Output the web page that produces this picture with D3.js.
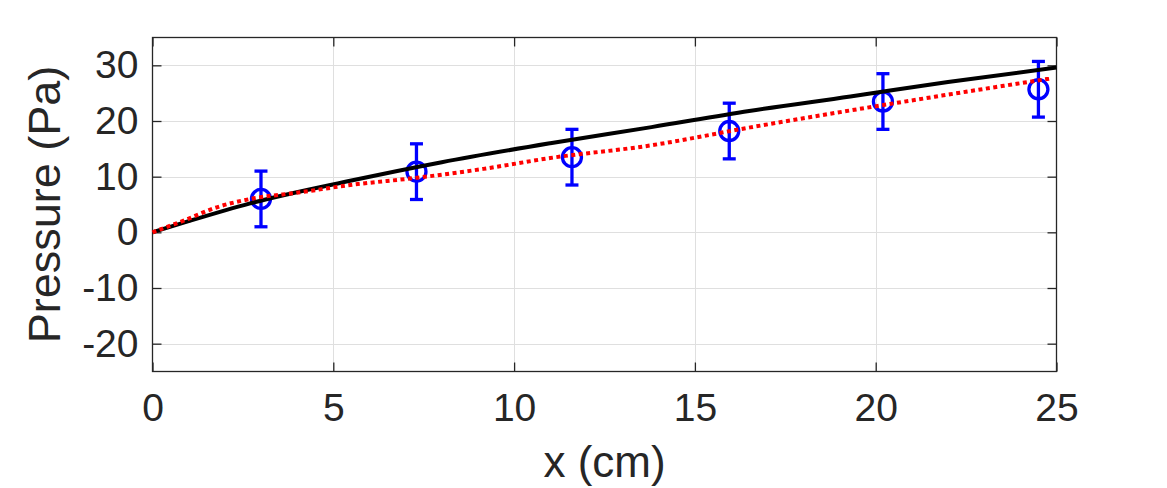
<!DOCTYPE html>
<html>
<head>
<meta charset="utf-8">
<script src="https://cdn.jsdelivr.net/npm/d3@7"></script>
<style>
    html, body { margin: 0; padding: 0; background: #fff; }
    svg { display: block; font-family: "Liberation Sans", Arial, Helvetica, sans-serif; }
</style>
</head>
<body>
<svg id="chart" width="1167" height="488"></svg>
<script>
// measured points with +/- error
const measX = [3.0, 7.3, 11.6, 15.95, 20.2, 24.5];
const measY = [6.0, 10.9, 13.5, 18.2, 23.5, 25.7];
const measErr = [5, 5, 5, 5, 5, 5];

// model curve (solid black)
const modelX = [0, 1, 2.7, 5.5, 8, 11, 13.8, 16.5, 19.3, 22, 25];
const modelY = [0, 2.0, 5.2, 9.3, 12.6, 16.0, 18.9, 21.8, 24.4, 27.0, 29.6];

// fitted curve (red dotted)
const fitX = [0, 0.86, 1.78, 2.71, 4.1, 5.47, 7.31, 9.15, 11.0, 13.76, 16.53, 19.3, 22.06, 24.8];
const fitY = [0, 2.1, 4.5, 6.0, 7.2, 8.5, 9.8, 11.4, 13.35, 15.6, 18.85, 21.9, 24.8, 27.6];

const xTicks = [0, 5, 10, 15, 20, 25];
const yTicks = [-20, -10, 0, 10, 20, 30];

const MARGIN = { left: 152.5, right: 1056.5, top: 37.5, bottom: 371.5 };
const TICK_LEN = 9;
const TEXT_COLOR = "#262626";

const svg = d3.select("#chart");

const x = d3.scaleLinear().domain([0, 25]).range([MARGIN.left, MARGIN.right]);
const y = d3.scaleLinear().domain([-25, 35]).range([MARGIN.bottom, MARGIN.top]);

// grid
const grid = svg.append("g").attr("class", "grid")
    .attr("stroke", "#dfdfdf")
    .attr("stroke-width", 1);
grid.selectAll(".gx").data(xTicks.slice(1, -1)).join("line")
    .attr("class", "gx")
    .attr("x1", (d) => Math.round(x(d)) + 0.5).attr("x2", (d) => Math.round(x(d)) + 0.5)
    .attr("y1", MARGIN.top).attr("y2", MARGIN.bottom);
grid.selectAll(".gy").data(yTicks).join("line")
    .attr("class", "gy")
    .attr("y1", (d) => Math.round(y(d)) + 0.5).attr("y2", (d) => Math.round(y(d)) + 0.5)
    .attr("x1", MARGIN.left).attr("x2", MARGIN.right);

// axes, ticks pointing inward on all four sides
const axisBottom = d3.axisBottom(x).tickValues(xTicks).tickSize(-TICK_LEN).tickPadding(22).tickFormat(d3.format("d"));
const axisLeft = d3.axisLeft(y).tickValues(yTicks).tickSize(-TICK_LEN).tickPadding(14).tickFormat((d) => d < 0 ? "-" + Math.abs(d) : d);
const axisTop = d3.axisTop(x).tickValues(xTicks).tickSize(-TICK_LEN).tickFormat("");
const axisRight = d3.axisRight(y).tickValues(yTicks).tickSize(-TICK_LEN).tickFormat("");

function styleAxis(g) {
    g.select(".domain").remove();
    g.selectAll(".tick line").attr("stroke", TEXT_COLOR).attr("stroke-width", 1.3);
    g.selectAll(".tick text")
        .attr("fill", TEXT_COLOR)
        .attr("font-size", 39)
        .attr("font-family", "Liberation Sans, Arial, sans-serif");
}

svg.append("g").attr("transform", `translate(0,${MARGIN.bottom})`).call(axisBottom).call(styleAxis);
svg.append("g").attr("transform", `translate(${MARGIN.left},0)`).call(axisLeft).call(styleAxis);
svg.append("g").attr("transform", `translate(0,${MARGIN.top})`).call(axisTop).call(styleAxis);
svg.append("g").attr("transform", `translate(${MARGIN.right},0)`).call(axisRight).call(styleAxis);

svg.append("rect")
    .attr("x", MARGIN.left).attr("y", MARGIN.top)
    .attr("width", MARGIN.right - MARGIN.left)
    .attr("height", MARGIN.bottom - MARGIN.top)
    .attr("fill", "none")
    .attr("stroke", TEXT_COLOR)
    .attr("stroke-width", 1.3);

// error bars
const meas = measX.map((d, i) => ({ x: d, y: measY[i], e: measErr[i] }));
const CAP = 6.5;
const eb = svg.append("g").attr("class", "errorbars")
    .attr("stroke", "#0000ff")
    .attr("stroke-width", 3.3)
    .attr("fill", "none");
const pt = eb.selectAll("g").data(meas).join("g");
pt.append("line")
    .attr("x1", (d) => x(d.x)).attr("x2", (d) => x(d.x))
    .attr("y1", (d) => y(d.y - d.e)).attr("y2", (d) => y(d.y + d.e));
pt.append("line")
    .attr("x1", (d) => x(d.x) - CAP).attr("x2", (d) => x(d.x) + CAP)
    .attr("y1", (d) => y(d.y + d.e)).attr("y2", (d) => y(d.y + d.e));
pt.append("line")
    .attr("x1", (d) => x(d.x) - CAP).attr("x2", (d) => x(d.x) + CAP)
    .attr("y1", (d) => y(d.y - d.e)).attr("y2", (d) => y(d.y - d.e));
pt.append("circle")
    .attr("cx", (d) => x(d.x)).attr("cy", (d) => y(d.y))
    .attr("r", 9.5);

// curves
const line = d3.line().x((d) => x(d[0])).y((d) => y(d[1])).curve(d3.curveMonotoneX);

svg.append("path")
    .datum(d3.zip(modelX, modelY))
    .attr("d", line)
    .attr("fill", "none")
    .attr("stroke", "#000")
    .attr("stroke-width", 4);

svg.append("path")
    .datum(d3.zip(fitX, fitY))
    .attr("d", line)
    .attr("fill", "none")
    .attr("stroke", "#ff0000")
    .attr("stroke-width", 4)
    .attr("stroke-dasharray", "4,3.5");

// labels
svg.append("text")
    .attr("x", (MARGIN.left + MARGIN.right) / 2)
    .attr("y", 477)
    .attr("text-anchor", "middle")
    .attr("fill", TEXT_COLOR)
    .attr("font-size", 44)
    .text("x (cm)");

svg.append("text")
    .attr("transform", `translate(60,${(MARGIN.top + MARGIN.bottom) / 2}) rotate(-90)`)
    .attr("text-anchor", "middle")
    .attr("fill", TEXT_COLOR)
    .attr("font-size", 45)
    .text("Pressure (Pa)");
</script>
</body>
</html>
